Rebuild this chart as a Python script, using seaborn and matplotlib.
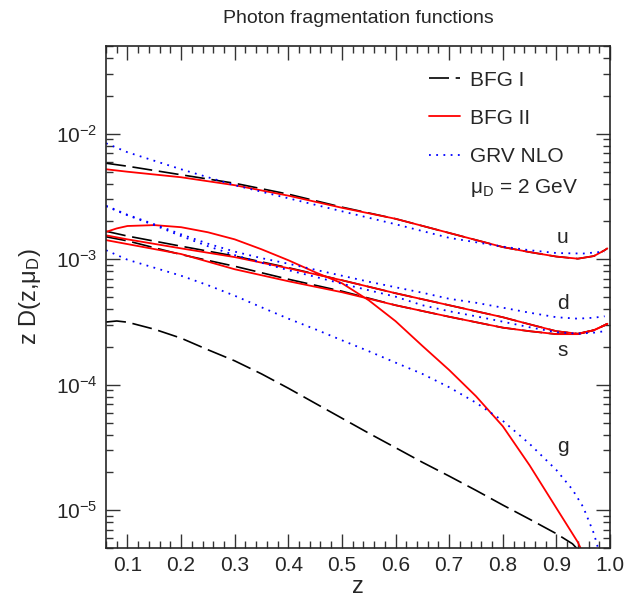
#Photon fragmentation functions: BFG I / BFG II / GRV NLO, mu_D = 2 GeV
import numpy as np
import pandas as pd
import matplotlib
matplotlib.use("Agg")
import matplotlib.pyplot as plt
import matplotlib.ticker as mticker
from matplotlib.lines import Line2D
import seaborn as sns

#z grids
z_bfg = [0.06, 0.1, 0.2, 0.3, 0.4, 0.5, 0.6, 0.7, 0.8, 0.85, 0.9, 0.94, 0.97, 0.99, 0.995]
z_bfg2_g = [0.06, 0.08, 0.1, 0.15, 0.2, 0.25, 0.3, 0.35, 0.4, 0.45, 0.5, 0.55, 0.6, 0.65, 0.7,
            0.75, 0.8, 0.85, 0.9, 0.94, 0.96]
z_bfg1_g = [0.06, 0.08, 0.1, 0.15, 0.2, 0.25, 0.3, 0.35, 0.4, 0.45, 0.5, 0.55, 0.6, 0.65, 0.7,
            0.75, 0.8, 0.85, 0.9, 0.93, 0.95, 0.97]
z_grv_u = [0.06, 0.1, 0.2, 0.3, 0.4, 0.5, 0.6, 0.7, 0.8, 0.85, 0.9, 0.95, 0.98, 0.99]
z_grv = [0.06, 0.1, 0.15, 0.2, 0.25, 0.3, 0.35, 0.4, 0.45, 0.5, 0.55, 0.6, 0.65, 0.7, 0.75,
         0.8, 0.85, 0.9, 0.94, 0.97, 0.99]
z_grv_g = [0.06, 0.1, 0.15, 0.2, 0.25, 0.3, 0.35, 0.4, 0.45, 0.5, 0.55, 0.6, 0.65, 0.7, 0.75,
           0.8, 0.85, 0.9, 0.93, 0.95, 0.97, 0.98]

#z D(z) values
bfg1_u = [5.82e-3, 5.51e-3, 4.71e-3, 4.03e-3, 3.30e-3, 2.60e-3, 2.10e-3, 1.62e-3, 1.25e-3,
          1.14e-3, 1.05e-3, 1.01e-3, 1.06e-3, 1.18e-3, 1.22e-3]
bfg1_d = [1.67e-3, 1.53e-3, 1.27e-3, 1.06e-3, 8.56e-4, 6.80e-4, 5.36e-4, 4.30e-4, 3.45e-4,
          3.03e-4, 2.67e-4, 2.55e-4, 2.72e-4, 2.98e-4, 3.06e-4]
bfg1_s = [1.51e-3, 1.40e-3, 1.09e-3, 8.79e-4, 6.93e-4, 5.56e-4, 4.30e-4, 3.48e-4, 2.85e-4,
          2.67e-4, 2.53e-4, 2.53e-4, 2.72e-4, 2.98e-4, 3.06e-4]
bfg1_g = [3.16e-4, 3.22e-4, 3.15e-4, 2.77e-4, 2.35e-4, 1.90e-4, 1.55e-4, 1.22e-4, 9.38e-5,
          7.12e-5, 5.41e-5, 4.11e-5, 3.15e-5, 2.41e-5, 1.87e-5, 1.44e-5, 1.10e-5, 8.48e-6,
          6.50e-6, 5.40e-6, 4.38e-6, 3.33e-6]

bfg2_u = [5.21e-3, 4.98e-3, 4.50e-3, 3.89e-3, 3.21e-3, 2.57e-3, 2.10e-3, 1.62e-3, 1.25e-3,
          1.14e-3, 1.05e-3, 1.01e-3, 1.06e-3, 1.18e-3, 1.22e-3]
bfg2_d = [1.55e-3, 1.44e-3, 1.22e-3, 1.04e-3, 8.48e-4, 6.80e-4, 5.36e-4, 4.30e-4, 3.45e-4,
          3.03e-4, 2.67e-4, 2.55e-4, 2.72e-4, 2.98e-4, 3.06e-4]
bfg2_s = [1.42e-3, 1.32e-3, 1.10e-3, 8.32e-4, 6.68e-4, 5.46e-4, 4.30e-4, 3.48e-4, 2.85e-4,
          2.67e-4, 2.53e-4, 2.53e-4, 2.72e-4, 2.98e-4, 3.06e-4]
bfg2_g = [1.65e-3, 1.76e-3, 1.84e-3, 1.87e-3, 1.80e-3, 1.64e-3, 1.44e-3, 1.20e-3, 9.82e-4,
          7.88e-4, 6.44e-4, 4.71e-4, 3.21e-4, 2.04e-4, 1.31e-4, 8.10e-5, 4.67e-5, 2.28e-5,
          1.04e-5, 5.56e-6, 3.65e-6]

grv_u = [8.40e-3, 7.12e-3, 5.21e-3, 3.89e-3, 3.06e-3, 2.41e-3, 1.90e-3, 1.48e-3, 1.26e-3,
         1.18e-3, 1.12e-3, 1.11e-3, 1.14e-3, 1.14e-3]
grv_d = [2.67e-3, 2.26e-3, 1.90e-3, 1.58e-3, 1.33e-3, 1.15e-3, 1.02e-3, 9.21e-4, 8.25e-4,
         7.39e-4, 6.62e-4, 5.98e-4, 5.41e-4, 4.84e-4, 4.50e-4, 4.11e-4, 3.75e-4, 3.45e-4,
         3.36e-4, 3.42e-4, 3.51e-4]
grv_s = [2.64e-3, 2.24e-3, 1.87e-3, 1.53e-3, 1.27e-3, 1.08e-3, 9.38e-4, 8.18e-4, 7.25e-4,
         6.38e-4, 5.66e-4, 5.03e-4, 4.30e-4, 3.85e-4, 3.51e-4, 3.18e-4, 2.87e-4, 2.62e-4,
         2.55e-4, 2.60e-4, 2.67e-4]
grv_g = [1.18e-3, 9.91e-4, 8.56e-4, 7.39e-4, 6.21e-4, 5.12e-4, 4.14e-4, 3.36e-4, 2.77e-4,
         2.26e-4, 1.85e-4, 1.50e-4, 1.22e-4, 9.55e-5, 7.19e-5, 5.16e-5, 3.38e-5, 2.09e-5,
         1.46e-5, 1.06e-5, 6.52e-6, 4.60e-6]

sets = ["BFG I", "BFG II", "GRV NLO"]
curves = [
    ("BFG I", "u", z_bfg, bfg1_u), ("BFG I", "d", z_bfg, bfg1_d),
    ("BFG I", "s", z_bfg, bfg1_s), ("BFG I", "g", z_bfg1_g, bfg1_g),
    ("BFG II", "u", z_bfg, bfg2_u), ("BFG II", "d", z_bfg, bfg2_d),
    ("BFG II", "s", z_bfg, bfg2_s), ("BFG II", "g", z_bfg2_g, bfg2_g),
    ("GRV NLO", "u", z_grv_u, grv_u), ("GRV NLO", "d", z_grv, grv_d),
    ("GRV NLO", "s", z_grv, grv_s), ("GRV NLO", "g", z_grv_g, grv_g),
]
df = pd.concat([pd.DataFrame({"set": s, "parton": p, "z": z, "zD": v}) for s, p, z, v in curves],
               ignore_index=True)

#parton labels at the right
parton_labels = ["u", "d", "s", "g"]
label_z = [0.912, 0.912, 0.912, 0.912]
label_y = [1.50e-3, 4.46e-4, 1.88e-4, 3.24e-5]

styles = {
    "BFG I": dict(color="black", linestyle=(0, (12, 4)), linewidth=1.2),
    "BFG II": dict(color="#ff0000", linestyle="-", linewidth=1.3),
    "GRV NLO": dict(color="#0000ff", linestyle=(0, (1, 3)), linewidth=1.3),
}

sns.set_style("ticks")
plt.rcParams['font.family'] = ['Liberation Sans', 'DejaVu Sans']
plt.rcParams['mathtext.fontset'] = 'custom'
plt.rcParams['mathtext.rm'] = 'Liberation Sans'
plt.rcParams['mathtext.it'] = 'Liberation Sans:italic'
plt.rcParams['mathtext.sf'] = 'Liberation Sans'

fig = plt.figure(figsize=(6.27, 6.03), dpi=100)
ax = fig.add_axes([0.1691, 0.0912, 0.8038, 0.8325])
ax.set_yscale("log")

for s in sets:
    for p in parton_labels:
        sub = df[(df["set"] == s) & (df["parton"] == p)]
        sns.lineplot(data=sub, x="z", y="zD", ax=ax, estimator=None, sort=True, **styles[s])

ax.set_xlim(0.06, 1.0)
ax.set_ylim(5e-6, 5e-2)

ax.xaxis.set_major_locator(mticker.MultipleLocator(0.1))
ax.xaxis.set_minor_locator(mticker.MultipleLocator(0.02))
ax.xaxis.set_major_formatter(mticker.FormatStrFormatter('%.1f'))
ax.yaxis.set_major_locator(mticker.LogLocator(base=10, numticks=10))
ax.yaxis.set_minor_locator(mticker.LogLocator(base=10, subs=np.arange(2, 10), numticks=20))
ax.yaxis.set_minor_formatter(mticker.NullFormatter())

ax.tick_params(which='both', direction='in', top=True, right=True, labelsize=15,
               width=1.0, color='#333333', pad=6)
ax.tick_params(which='major', length=10)
ax.tick_params(which='minor', length=5)
for sp in ax.spines.values():
    sp.set_linewidth(1.2)

ax.set_xlabel("z", fontsize=17)
ax.set_ylabel(r"z D(z,μ$_{\rm D}$)", fontsize=17)
ax.xaxis.set_label_coords(0.5, -0.056)
ax.yaxis.set_label_coords(-0.125, 0.5)

fig.text(0.571, 0.970, "Photon fragmentation functions", ha='center', va='center', fontsize=14)

for lab, zx, yy in zip(parton_labels, label_z, label_y):
    ax.text(zx, yy, lab, ha='center', va='center', fontsize=15)

handles = [Line2D([], [], **styles[s]) for s in sets]
ax.legend(handles, sets, loc='upper left', bbox_to_anchor=(0.641, 0.951), frameon=False,
          fontsize=15, handlelength=1.5, handletextpad=0.45, labelspacing=0.92,
          borderpad=0, borderaxespad=0)
ax.text(0.722, 0.717, r"μ$_{\rm D}$ = 2 GeV", transform=ax.transAxes,
        ha='left', va='center', fontsize=15)

plt.savefig("out.png", dpi=100)
